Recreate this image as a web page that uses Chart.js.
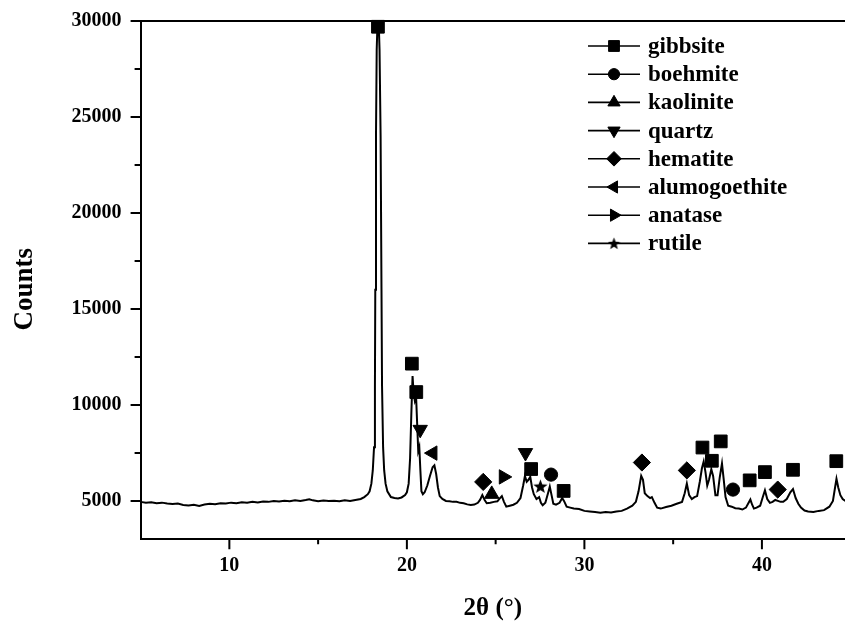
<!DOCTYPE html>
<html>
<head>
<meta charset="utf-8">
<script src="https://cdn.jsdelivr.net/npm/chart.js@4.4.1/dist/chart.umd.min.js"></script>
<style>
  html, body { margin: 0; padding: 0; background: #fff; }
  #wrap { width: 845px; height: 625px; }
</style>
</head>
<body>
<div id="wrap"><canvas id="xrd" width="845" height="625"></canvas></div>
<script>
// XRD pattern (2theta in degrees, counts)
const twoTheta = [
  5.0, 5.3, 5.6, 5.9, 6.2, 6.5, 6.8, 7.1, 7.4, 7.7, 8.0, 8.3, 8.6, 8.9, 9.2, 9.5, 9.8,
  10.1, 10.4, 10.7, 11.0, 11.3, 11.6, 11.9, 12.2, 12.5, 12.8, 13.1, 13.4, 13.7, 14.0,
  14.3, 14.5, 14.7, 15.0, 15.3, 15.6, 15.9, 16.2, 16.5, 16.8, 17.1, 17.4, 17.6, 17.8,
  17.9, 18.0, 18.08, 18.15, 18.2, 18.22, 18.26, 18.3, 18.38, 18.46, 18.52, 18.57, 18.6,
  18.66, 18.72, 18.8, 18.9, 19.1, 19.3, 19.5, 19.7, 19.9, 20.0, 20.1, 20.18, 20.25, 20.32, 20.38,
  20.45, 20.52, 20.58, 20.64, 20.7, 20.76, 20.82, 20.9, 21.0, 21.15, 21.3, 21.45, 21.55,
  21.65, 21.75, 21.85, 22.0, 22.2, 22.4, 22.6, 22.8, 23.0, 23.2, 23.4, 23.6, 23.8, 24.0,
  24.12, 24.25, 24.38, 24.5, 24.7, 24.9, 25.1, 25.22, 25.35, 25.47, 25.6, 25.8, 26.0,
  26.2, 26.4, 26.55, 26.65, 26.75, 26.85, 26.95, 27.05, 27.15, 27.3, 27.45, 27.55, 27.65,
  27.8, 27.95, 28.05, 28.15, 28.25, 28.4, 28.6, 28.75, 28.85, 29.0, 29.2, 29.4, 29.7,
  30.0, 30.3, 30.6, 30.9, 31.2, 31.5, 31.8, 32.1, 32.4, 32.7, 32.9, 33.05, 33.2, 33.3,
  33.4, 33.55, 33.7, 33.8, 33.95, 34.1, 34.3, 34.6, 34.9, 35.2, 35.5, 35.65, 35.77, 35.9,
  36.05, 36.2, 36.35, 36.5, 36.62, 36.72, 36.82, 36.92, 37.02, 37.15, 37.25, 37.38, 37.5,
  37.62, 37.75, 37.85, 37.95, 38.1, 38.3, 38.5, 38.7, 38.9, 39.1, 39.25, 39.35, 39.45,
  39.55, 39.7, 39.9, 40.05, 40.17, 40.3, 40.45, 40.6, 40.75, 40.9, 41.05, 41.2, 41.4,
  41.6, 41.75, 41.9, 42.05, 42.2, 42.4, 42.6, 42.9, 43.2, 43.5, 43.8, 44.0, 44.12, 44.2,
  44.3, 44.42, 44.55, 44.7
];
const counts = [
  4950, 4900, 4930, 4880, 4910, 4870, 4840, 4860, 4790, 4760, 4800, 4740, 4810, 4850, 4830, 4880, 4860,
  4910, 4880, 4930, 4900, 4950, 4920, 4970, 4950, 5000, 4970, 5010, 4980, 5030, 5000,
  5050, 5090, 5030, 4980, 5020, 4990, 5010, 4980, 5030, 4990, 5050, 5100, 5200, 5350,
  5500, 5900, 6600, 7800, 11000, 16000, 24000, 28500, 31000, 28500, 24000, 16000, 11000,
  7800, 6600, 5900, 5500, 5200, 5150, 5130, 5180, 5300, 5450, 5900, 7200, 9500, 11500, 10600,
  10200, 10400, 9000, 7600, 7800, 6600, 5500, 5350, 5450, 5800, 6300, 6750, 6850,
  6400, 5700, 5250, 5100, 5000, 4980, 4950, 4960, 4900, 4880, 4820, 4790, 4810, 4900,
  5050, 5300, 5050, 4880, 4900, 4950, 4980, 5120, 5250, 4950, 4700, 4750, 4800,
  4900, 5150, 5800, 6300, 6000, 6100, 6250, 5700, 5350, 5100, 5200, 4900, 4770,
  4900, 5400, 5750, 5300, 4850, 4800, 4900, 5150, 5000, 4700, 4650, 4600, 4580,
  4480, 4450, 4420, 4380, 4420, 4400, 4450, 4480, 4600, 4750, 4950, 5500, 6300, 6100,
  5400, 5250, 5150, 5200, 4900, 4650, 4600, 4680, 4750, 4850, 4950, 5400, 5900, 5300,
  5100, 5200, 5250, 6000, 6700, 7050, 6500, 5800, 6100, 6650, 6300, 5300, 5300,
  6200, 6950, 6100, 5200, 4750, 4700, 4620, 4600, 4550, 4650, 4900, 5070, 4800,
  4600, 4650, 4750, 5200, 5550, 5100, 4900, 4950, 5050, 5000, 4950, 4950, 5100,
  5450, 5620, 5150, 4850, 4650, 4500, 4450, 4420, 4480, 4520, 4700, 5000, 5700, 6150,
  5700, 5300, 5100, 5000
];

// phase markers: [2theta, counts]
const gibbsitePeaks = [[18.37, 29700], [20.28, 12150], [20.53, 10670], [27.0, 6660], [28.83, 5520],
  [36.65, 7780], [37.18, 7090], [37.68, 8100], [39.31, 6070], [40.17, 6500], [41.75, 6620], [44.19, 7070]];
const boehmitePeaks = [[28.12, 6370], [38.37, 5590]];
const kaolinitePeaks = [[24.78, 5350]];
const quartzPeaks = [[20.75, 8720], [26.68, 7510]];
const hematitePeaks = [[24.30, 5990], [33.24, 7000], [35.77, 6590], [40.89, 5590]];
const alumogoethitePeaks = [[21.46, 7490]];
const anatasePeaks = [[25.44, 6250]];
const rutilePeaks = [[27.52, 5760]];

const phaseNames = ['gibbsite', 'boehmite', 'kaolinite', 'quartz', 'hematite', 'alumogoethite', 'anatase', 'rutile'];

const xMajorTicks = [10, 20, 30, 40];
const xMinorTicks = [15, 25, 35];
const yMajorTicks = [5000, 10000, 15000, 20000, 25000, 30000];
const yMinorTicks = [7500, 12500, 17500, 22500, 27500];

const FONT = '"Liberation Serif", "Times New Roman", serif';

// filled five point star for rutile
function makeStar(size) {
  const c = document.createElement('canvas');
  c.width = size; c.height = size;
  const g = c.getContext('2d');
  const cx = size / 2, cy = size / 2 + 0.5, ro = size / 2, ri = ro * 0.42;
  g.beginPath();
  for (let i = 0; i < 10; i++) {
    const r = i % 2 ? ri : ro;
    const a = -Math.PI / 2 + i * Math.PI / 5;
    g.lineTo(cx + r * Math.cos(a), cy + r * Math.sin(a));
  }
  g.closePath();
  g.fillStyle = '#000';
  g.fill();
  return c;
}
const starImg = makeStar(15);
const starSmall = makeStar(13);

const styles = [
  { pointStyle: 'rect', rotation: 0, radius: 9 },
  { pointStyle: 'circle', rotation: 0, radius: 6.6 },
  { pointStyle: 'triangle', rotation: 0, radius: 8.3 },
  { pointStyle: 'triangle', rotation: 180, radius: 8.3 },
  { pointStyle: 'rectRot', rotation: 0, radius: 8.6 },
  { pointStyle: 'triangle', rotation: 270, radius: 8.3 },
  { pointStyle: 'triangle', rotation: 90, radius: 8.3 },
  { pointStyle: starImg, rotation: 0, radius: 7 }
];
const phasePeaks = [gibbsitePeaks, boehmitePeaks, kaolinitePeaks, quartzPeaks,
  hematitePeaks, alumogoethitePeaks, anatasePeaks, rutilePeaks];

const markerSets = phaseNames.map((name, i) => ({
  label: name,
  data: phasePeaks[i].map(p => ({ x: p[0], y: p[1] })),
  showLine: false,
  pointStyle: styles[i].pointStyle,
  rotation: styles[i].rotation,
  pointRadius: styles[i].radius,
  backgroundColor: '#000',
  borderColor: '#000',
  borderWidth: 1,
  clip: false,
  order: 0
}));

const ticksAndFrame = {
  id: 'ticksAndFrame',
  afterDraw(chart) {
    const { ctx, chartArea: a, scales: { x, y } } = chart;
    ctx.save();
    ctx.strokeStyle = '#000';
    ctx.lineWidth = 2;
    ctx.beginPath();
    ctx.moveTo(a.left - 1, a.top);
    ctx.lineTo(a.right, a.top);
    const xt = (v, len) => { const px = x.getPixelForValue(v); ctx.moveTo(px, a.bottom); ctx.lineTo(px, a.bottom + len); };
    const yt = (v, len) => { const py = y.getPixelForValue(v); ctx.moveTo(a.left, py); ctx.lineTo(a.left - len, py); };
    xMajorTicks.forEach(v => xt(v, 10));
    xMinorTicks.forEach(v => xt(v, 5));
    yMajorTicks.forEach(v => yt(v, 10));
    yMinorTicks.forEach(v => yt(v, 6));
    ctx.stroke();
    // y axis title, centred a little below the middle of the plot as in the original
    ctx.font = 'bold 27px ' + FONT;
    ctx.fillStyle = '#000';
    ctx.textAlign = 'center';
    ctx.textBaseline = 'middle';
    ctx.translate(25, (a.top + a.bottom) / 2 + 9);
    ctx.rotate(-Math.PI / 2);
    ctx.fillText('Counts', 0, 0);
    ctx.restore();
  }
};

const phaseLegend = {
  id: 'phaseLegend',
  afterDraw(chart) {
    const ctx = chart.ctx;
    const x0 = 588, x1 = 640, xm = 614, tx = 648, top = 46, step = 28.2;
    ctx.save();
    ctx.font = 'bold 23px ' + FONT;
    ctx.textBaseline = 'middle';
    ctx.fillStyle = '#000';
    ctx.strokeStyle = '#000';
    phaseNames.forEach((name, i) => {
      const yy = top + i * step;
      ctx.lineWidth = 1.6;
      ctx.beginPath();
      ctx.moveTo(x0, yy);
      ctx.lineTo(x1, yy);
      ctx.stroke();
      ctx.lineWidth = 1;
      Chart.helpers.drawPoint(ctx, {
        pointStyle: i === 7 ? starSmall : styles[i].pointStyle,
        rotation: styles[i].rotation,
        radius: styles[i].radius * 0.85,
        borderWidth: 1
      }, xm, yy);
      ctx.fillText(name, tx, yy + 1);
    });
    ctx.restore();
  }
};

new Chart(document.getElementById('xrd'), {
  type: 'scatter',
  data: {
    datasets: [
      {
        label: 'pattern',
        data: twoTheta.map((t, i) => ({ x: t, y: counts[i] })),
        showLine: true,
        borderColor: '#000',
        borderWidth: 2,
        pointRadius: 0,
        tension: 0,
        order: 1
      },
      ...markerSets
    ]
  },
  options: {
    responsive: false,
    animation: false,
    events: [],
    layout: { autoPadding: false, padding: { top: 19.5, right: 0, left: 0, bottom: 0 } },
    plugins: { legend: { display: false }, tooltip: { enabled: false } },
    scales: {
      x: {
        type: 'linear',
        min: 5,
        max: 44.68,
        afterBuildTicks: s => { s.ticks = xMajorTicks.map(v => ({ value: v })); },
        afterFit: s => { s.height = 85.7; s.paddingLeft = 0; s.paddingRight = 0; },
        ticks: {
          callback: v => String(v),
          color: '#000',
          padding: 5,
          maxRotation: 0,
          font: { family: FONT, size: 20, weight: 'bold' }
        },
        grid: { drawOnChartArea: false, tickLength: 10, tickColor: 'rgba(0,0,0,0)' },
        border: { display: true, color: '#000', width: 2 },
        title: {
          display: true,
          text: '2θ (°)',
          color: '#000',
          padding: { top: 0, bottom: 1 },
          font: { family: FONT, size: 25, weight: 'bold' }
        }
      },
      y: {
        type: 'linear',
        min: 3000,
        max: 30000,
        afterBuildTicks: s => { s.ticks = yMajorTicks.map(v => ({ value: v })); },
        afterFit: s => { s.width = 140.6; },
        ticks: {
          callback: v => String(v),
          color: '#000',
          padding: 9,
          font: { family: FONT, size: 20, weight: 'bold' }
        },
        grid: { drawOnChartArea: false, tickLength: 10, tickColor: 'rgba(0,0,0,0)' },
        border: { display: true, color: '#000', width: 2 },
        title: { display: false }
      }
    }
  },
  plugins: [ticksAndFrame, phaseLegend]
});
</script>
</body>
</html>
